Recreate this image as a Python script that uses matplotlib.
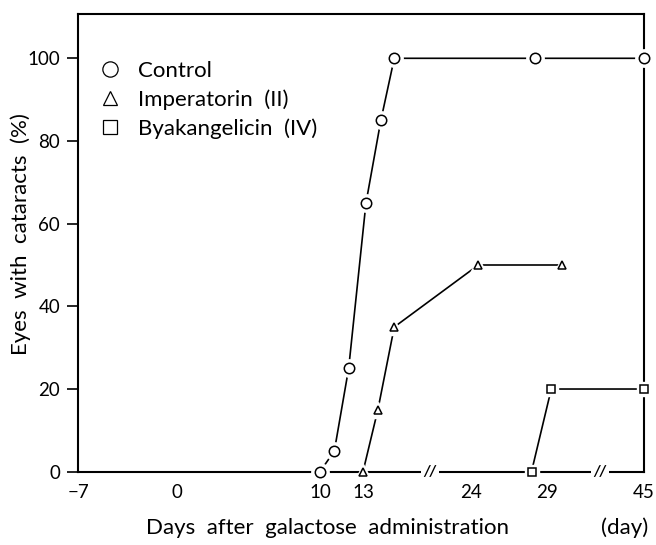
import numpy as np
import matplotlib
matplotlib.use("Agg")
import matplotlib.pyplot as plt
from matplotlib.lines import Line2D

plt.rcParams['font.family'] = ['Lato', 'DejaVu Sans']

# ---- data ----
control_x = [10, 11, 12, 13.2, 14.2, 15.1, 28.2, 45]
control_y = [0, 5, 25, 65, 85, 100, 100, 100]
imper_x = [13, 14, 15.1, 24.5, 30]
imper_y = [0, 15, 35, 50, 50]
byak_x = [28, 29.3, 45]
byak_y = [0, 20, 20]

xtick_vals = [-7, 0, 10, 13, 24, 29, 45]
xtick_labels = ['−7', '0', '10', '13', '24', '29', '45']
xtick_marks = [0, 24, 29]
ytick_vals = [0, 20, 40, 60, 80, 100]
break_days = [17.5, 32.5]

# broken (piecewise-linear) day axis
bp_days = np.array([-7, 0, 10, 13, 17.5, 24, 29, 32.5, 45], float)
bp_pos = np.array([78.3, 176.7, 320, 363, 430, 470.7, 546.7, 600, 644], float)

def fwd(x):
    return np.interp(x, bp_days, bp_pos)

def inv(p):
    return np.interp(p, bp_pos, bp_days)

W, H = 656, 545
AX_L, AX_R, AX_B, AX_T = 78.3, 644, 471.7, 14
fig = plt.figure(figsize=(W / 100, H / 100), dpi=100)
ax = fig.add_axes([AX_L / W, 1 - AX_B / H, (AX_R - AX_L) / W, (AX_B - AX_T) / H])
ax.set_xscale('function', functions=(fwd, inv))
ax.set_xlim(-7, 45)
ax.set_ylim(0, 100 * (AX_B - AX_T) / (AX_B - 58.3))

lw = 1.2
series = [
    (control_x, control_y, 'o', 7.5),
    (imper_x, imper_y, '^', 6.0),
    (byak_x, byak_y, 's', 5.5),
]
for xs, ys, m, ms in series:
    ax.plot(xs, ys, '-', color='black', lw=lw, zorder=2, clip_on=False)
    ax.plot(xs, ys, linestyle='none', marker=m, ms=ms + 5, mfc='white',
            mec='white', zorder=3, clip_on=False)
    ax.plot(xs, ys, linestyle='none', marker=m, ms=ms, mfc='white',
            mec='black', mew=1.1, zorder=4, clip_on=False)

for s in ax.spines.values():
    s.set_linewidth(1.5)
    s.set_zorder(2.5)

ax.set_xticks(xtick_vals)
ax.set_xticklabels(xtick_labels)
ax.set_xticks(xtick_marks, minor=True)
ax.tick_params(axis='x', which='major', length=0, pad=9, labelsize=13.5)
ax.tick_params(axis='x', which='minor', length=8, width=1.5, direction='out')
ax.set_yticks(ytick_vals)
ax.tick_params(axis='y', which='major', length=8, width=1.2, direction='out',
               pad=5, labelsize=13.5)

# break marks on the day axis
for bd in break_days:
    ax.text(bd, 0, '//', transform=ax.get_xaxis_transform(), ha='center',
            va='center', fontsize=11, fontweight='bold', fontstyle='italic',
            bbox=dict(facecolor='white', edgecolor='none', pad=1.5),
            zorder=5, clip_on=False)

ax_w = AX_R - AX_L
ax_h = AX_B - AX_T
lab_y = -(528 - AX_B) / ax_h
ax.set_xlabel('Days  after  galactose  administration', fontsize=16)
ax.xaxis.label.set_va('center')
ax.xaxis.set_label_coords((328 - AX_L) / ax_w, lab_y)
ax.text((625 - AX_L) / ax_w, lab_y, '(day)', transform=ax.transAxes,
        ha='center', va='center', fontsize=16)
ax.set_ylabel('Eyes  with  cataracts  (%)', fontsize=16)
ax.yaxis.label.set_va('center')
ax.yaxis.set_label_coords(-(AX_L - 21) / ax_w, 0.52)

handles = [
    Line2D([], [], linestyle='none', marker='o', ms=11, mfc='white', mec='black', mew=0.9),
    Line2D([], [], linestyle='none', marker='^', ms=10, mfc='white', mec='black', mew=0.9),
    Line2D([], [], linestyle='none', marker='s', ms=10, mfc='white', mec='black', mew=0.9),
]
labels = ['Control', 'Imperatorin  (II)', 'Byakangelicin  (IV)']
ax.legend(handles, labels, loc='upper left',
          bbox_to_anchor=((99 - AX_L) / ax_w, 1 - (61 - AX_T) / ax_h),
          frameon=False, fontsize=16, handlelength=1.0, handletextpad=0.75,
          labelspacing=0.38, borderaxespad=0, borderpad=0)

fig.savefig('out.png', dpi=100)
